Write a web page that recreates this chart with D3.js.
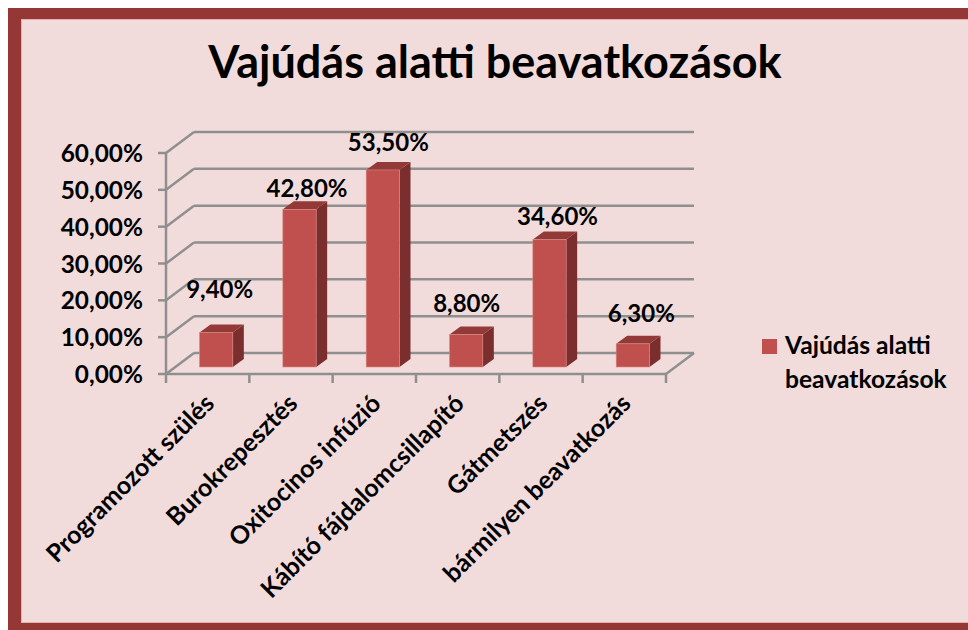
<!DOCTYPE html>
<html><head><meta charset="utf-8">
<script src="https://cdn.jsdelivr.net/npm/d3@7/dist/d3.min.js"></script>
<style>html,body{margin:0;padding:0;background:#fff}svg{display:block}text{font-family:Lato,"Open Sans",sans-serif;font-weight:700;fill:#000}</style>
</head><body><div id="c"></div>
<script>
const title = "Vajúdás alatti beavatkozások";
const categories = ["Programozott szülés","Burokrepesztés","Oxitocinos infúzió","Kábító fájdalomcsillapító","Gátmetszés","bármilyen beavatkozás"];
const values = [9.4,42.8,53.5,8.8,34.6,6.3];
const yTicks = [0,10,20,30,40,50,60];
const legendLines = ["Vajúdás alatti","beavatkozások"];

const fmt = v => v.toFixed(2).replace(".",",") + "%";
const svg = d3.select("#c").append("svg").attr("width",968).attr("height",630);
svg.append("rect").attr("x",8).attr("y",8).attr("width",960).attr("height",622).attr("fill","#953735");
svg.append("rect").attr("x",21).attr("y",19).attr("width",947).attr("height",604).attr("fill","#e6b0ae");
svg.append("rect").attr("x",22).attr("y",20).attr("width",946).attr("height",602).attr("fill","#f2dcdb");

svg.append("text").attr("x",495).attr("y",78).attr("text-anchor","middle").attr("font-size",45).text(title);

const x = d3.scaleBand().domain(categories).range([166,666]).paddingInner(0).paddingOuter(0);
const y = d3.scaleLinear().domain([0,60]).range([374,153]);
const wall = {dx:28, dy:-21};
const grid = "#8f8f8f";
const line = (x1,y1,x2,y2,w=2.5) => svg.append("line").attr("x1",x1).attr("y1",y1).attr("x2",x2).attr("y2",y2).attr("stroke",grid).attr("stroke-width",w);

yTicks.forEach(t=>{
  const yy = y(t);
  line(166+wall.dx, yy+wall.dy, 666+wall.dx, yy+wall.dy);
  line(166, yy, 166+wall.dx, yy+wall.dy);
  line(158, yy, 166, yy);
  svg.append("text").attr("x",143).attr("y",yy+9).attr("text-anchor","end").attr("font-size",24.4).text(fmt(t));
});
line(166,y(60),166,y(0));
line(166,y(0),666,y(0));
line(666,y(0),666+wall.dx,y(0)+wall.dy);
x.domain().forEach(c=>line(x(c),y(0),x(c),y(0)+9));
line(666,y(0),666,y(0)+9);

const barW = x.bandwidth()*0.4, shift = 8.5, baseLift = 7, d = {dx:11, dy:-8};
const labelLift = [34,12,19,23,15,22];
const labelShift = [-1.5,2.5,0.5,-4.5,3,3.5];
categories.forEach((c,i)=>{
  const x0 = x(c)+x.bandwidth()/2-barW/2+shift, x1=x0+barW;
  const yb = y(0)-baseLift, yt = yb-(y(0)-y(values[i]));
  const g = svg.append("g");
  g.append("path").attr("d",d3.line()([[x1,yt],[x1+d.dx,yt+d.dy],[x1+d.dx,yb+d.dy],[x1,yb]])).attr("fill","#7a2f2e");
  g.append("path").attr("d",d3.line()([[x0,yt],[x0+d.dx,yt+d.dy],[x1+d.dx,yt+d.dy],[x1,yt]])).attr("fill","#933a38");
  g.append("rect").attr("x",x0).attr("y",yt).attr("width",barW).attr("height",yb-yt).attr("fill","#c0504d").attr("stroke","#d98a87").attr("stroke-width",0.6);
  svg.append("text").attr("x",x0+barW/2+labelShift[i]+5).attr("y",yt-labelLift[i]).attr("text-anchor","middle").attr("font-size",24).text(fmt(values[i]));
  svg.append("text").attr("transform",`translate(${x(c)+x.bandwidth()/2+8},${y(0)+31}) rotate(-45)`).attr("text-anchor","end").attr("font-size",25).text(c);
});

svg.append("rect").attr("x",762).attr("y",339).attr("width",15).attr("height",15).attr("fill","#c0504d");
legendLines.forEach((t,i)=>svg.append("text").attr("x",785).attr("y",354+i*34).attr("font-size",24.6).text(t));
</script></body></html>
